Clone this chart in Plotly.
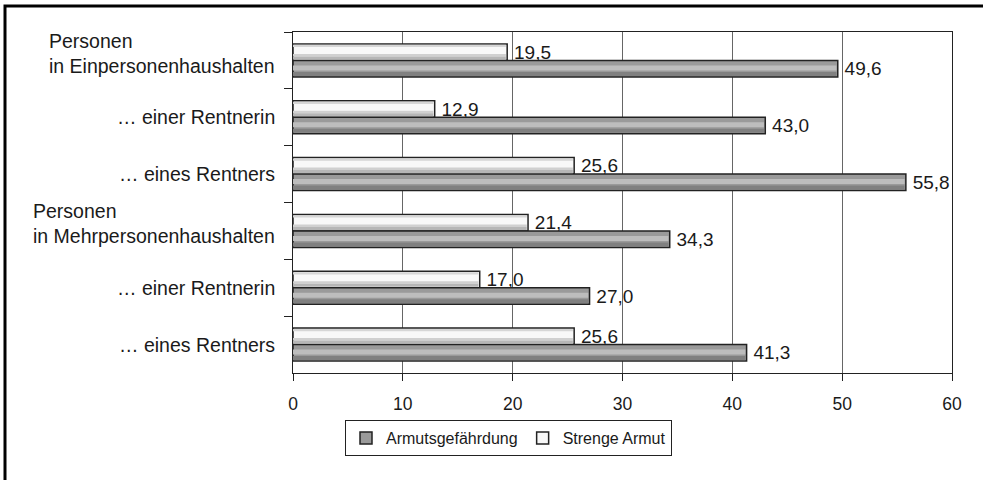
import plotly.graph_objects as go

categories = [
    "Personen<br>in Einpersonenhaushalten",
    "… einer Rentnerin",
    "… eines Rentners",
    "Personen<br>in Mehrpersonenhaushalten",
    "… einer Rentnerin",
    "… eines Rentners",
]
armutsgefaehrdung = [49.6, 43.0, 55.8, 34.3, 27.0, 41.3]
strenge_armut = [19.5, 12.9, 25.6, 21.4, 17.0, 25.6]
x_ticks = [0, 10, 20, 30, 40, 50, 60]

keys = [f"k{i}" for i in range(len(categories))]

W, H = 983, 480
L, R, T, B = 293, 31, 32, 107
PW, PH = W - L - R, H - T - B

FONT = "Liberation Sans, Arial, sans-serif"
TXT = "#1a1a1a"
EDGE = "#222222"

U = len(categories) / PH          # category units per pixel
BW = 16.5 * U                     # bar thickness in category units
XU = 60 / PW                      # value units per pixel

fig = go.Figure()

def base(vals, name, color, off):
    fig.add_trace(go.Bar(
        y=keys, x=vals, orientation="h", name=name,
        offset=off, width=BW,
        marker=dict(color=color, line=dict(color=EDGE, width=1.5)),
        texttemplate="\u2009%{x:.1f}", textposition="outside",
        constraintext="none",
        textfont=dict(size=19, color=TXT, family=FONT), cliponaxis=False,
        hoverinfo="x+name",
    ))

def band(vals, color, off, p0, p1):
    fig.add_trace(go.Bar(
        y=keys, x=[v - 1.3 * XU for v in vals], orientation="h",
        offset=off + p0 * U, width=(p1 - p0) * U,
        marker=dict(color=color, line=dict(width=0)),
        showlegend=False, hoverinfo="skip",
    ))

# white bars above the category center, grey below (axis reversed)
base(strenge_armut, "Strenge Armut", "#f8f8f8", -BW)
base(armutsgefaehrdung, "Armutsgefährdung", "#9a9a9a", 0)

band(strenge_armut, "#d6d6d6", -BW, 0.9, 3.2)
band(strenge_armut, "#d0d0d0", -BW, 10.0, 12.5)
band(strenge_armut, "#b6b6b6", -BW, 12.5, 15.6)
band(armutsgefaehrdung, "#bdbdbd", 0, 5.0, 10.0)
band(armutsgefaehrdung, "#808080", 0, 11.5, 15.6)

annotations = []
for k, lab in zip(keys, categories):
    annotations.append(dict(
        x=0, xref="paper", y=k, yref="y", xanchor="right", xshift=-16,
        yshift=7 if "<br>" in lab else 0,
        align="left", text=lab, showarrow=False,
        font=dict(size=19.5, color=TXT, family=FONT),
    ))

def px2x(p):
    return (p - L) / PW

def py2y(p):
    return (H - B - p) / PH

shapes = [dict(
    type="path", xref="paper", yref="paper",
    path=f"M {px2x(995)} {py2y(6)} L {px2x(5)} {py2y(6)} L {px2x(5)} {py2y(495)}",
    line=dict(color="black", width=3),
)]

fig.update_layout(
    width=W, height=H,
    margin=dict(l=L, r=R, t=T, b=B, pad=0),
    paper_bgcolor="white", plot_bgcolor="white",
    barmode="overlay",
    separators=",.",
    font=dict(family=FONT, size=16, color=TXT),
    showlegend=True,
    legend=dict(
        orientation="h", x=px2x(345), xanchor="left", y=py2y(420), yanchor="top",
        bordercolor=EDGE, borderwidth=1, traceorder="reversed",
        font=dict(size=16, color=TXT, family=FONT),
    ),
    annotations=annotations,
    shapes=shapes,
    xaxis=dict(
        range=[0, 60], tickvals=x_ticks, ticks="outside", ticklen=7,
        tickcolor=EDGE, showline=True, linecolor=EDGE, linewidth=1,
        mirror=True, showgrid=True, gridcolor="#666666", gridwidth=1,
        zeroline=False, ticklabelstandoff=8,
        tickfont=dict(size=17.5, color=TXT, family=FONT),
    ),
    yaxis=dict(
        type="category", categoryorder="array", categoryarray=keys,
        autorange="reversed", showticklabels=False, ticks="outside",
        tickson="boundaries", ticklen=8, tickcolor=EDGE,
        showline=True, linecolor=EDGE, linewidth=1, mirror=True,
        showgrid=False, zeroline=False,
    ),
)

fig.write_html(
    "out.html",
    config={"displayModeBar": False},
    post_script="document.body.style.margin='0';document.body.style.padding='0';",
)
